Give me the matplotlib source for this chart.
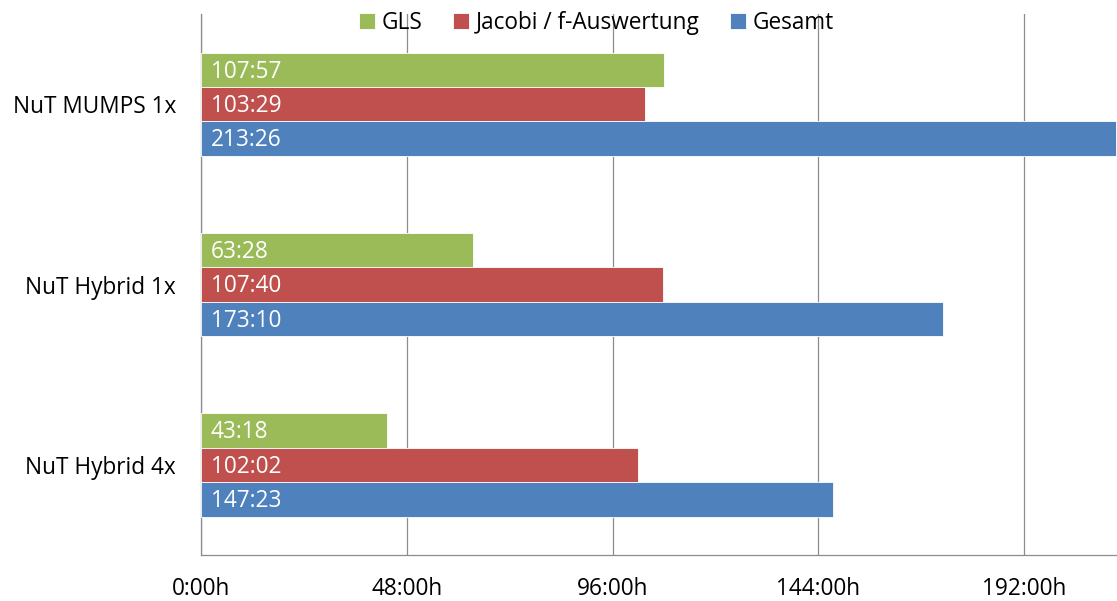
import numpy as np
import matplotlib as mpl
mpl.use('Agg')
import matplotlib.pyplot as plt
from matplotlib.ticker import FixedLocator

plt.rcParams['font.family'] = ['Open Sans', 'DejaVu Sans']

# run times, hours:minutes
categories = ['NuT MUMPS 1x', 'NuT Hybrid 1x', 'NuT Hybrid 4x']
gls = ['107:57', '63:28', '43:18']
jacobi = ['103:29', '107:40', '102:02']
gesamt = ['213:26', '173:10', '147:23']
series_names = ['GLS', 'Jacobi / f-Auswertung', 'Gesamt']
colors = ['#9BBB59', '#C0504D', '#4F81BD']
tick_hours = [0, 48, 96, 144, 192]
tick_labels = ['0:00h', '48:00h', '96:00h', '144:00h', '192:00h']


def to_hours(s):
    h, m = s.split(':')
    return int(h) + int(m) / 60.0


fs = 16.3
fig = plt.figure(figsize=(11.17, 6.01), dpi=100)
ax = fig.add_axes([0.18, 0.0765, 0.82, 0.9002])

y = np.arange(len(categories))
bh = 0.191
offsets = [-bh, 0, bh]
handles = []
for data, name, col, off in zip([gls, jacobi, gesamt], series_names, colors, offsets):
    vals = [to_hours(v) for v in data]
    b = ax.barh(y + off, vals, height=bh, color=col, edgecolor='white', linewidth=0.6,
                label=name, zorder=3)
    handles.append(b)
    for yi, v, txt in zip(y + off, vals, data):
        ax.text(2.3, yi + 0.01, txt, color='white', fontsize=fs, va='center', ha='left', zorder=4)

ax.set_ylim(2.5, -0.5)
ax.set_xlim(0, 213.7)
ax.set_yticks(y)
ax.set_yticklabels(categories, fontsize=fs)
ax.xaxis.set_major_locator(FixedLocator(tick_hours))
ax.set_xticklabels(tick_labels, fontsize=fs)
ax.tick_params(axis='both', length=0)
ax.tick_params(axis='x', pad=16)
ax.tick_params(axis='y', pad=18)
ax.grid(axis='x', color='#8c8c8c', linewidth=0.9, zorder=0)
for s in ['top', 'right']:
    ax.spines[s].set_visible(False)
for s in ['left', 'bottom']:
    ax.spines[s].set_color('#8c8c8c')
    ax.spines[s].set_linewidth(0.9)

leg = ax.legend(handles=handles, loc='upper center', bbox_to_anchor=(0.432, 1.022), ncol=3,
                frameon=False, fontsize=fs, handlelength=0.7, handleheight=0.7,
                handletextpad=0.3, columnspacing=1.35, borderaxespad=0)
leg.set_zorder(5)

plt.savefig('out.png', dpi=100)
plt.close()
